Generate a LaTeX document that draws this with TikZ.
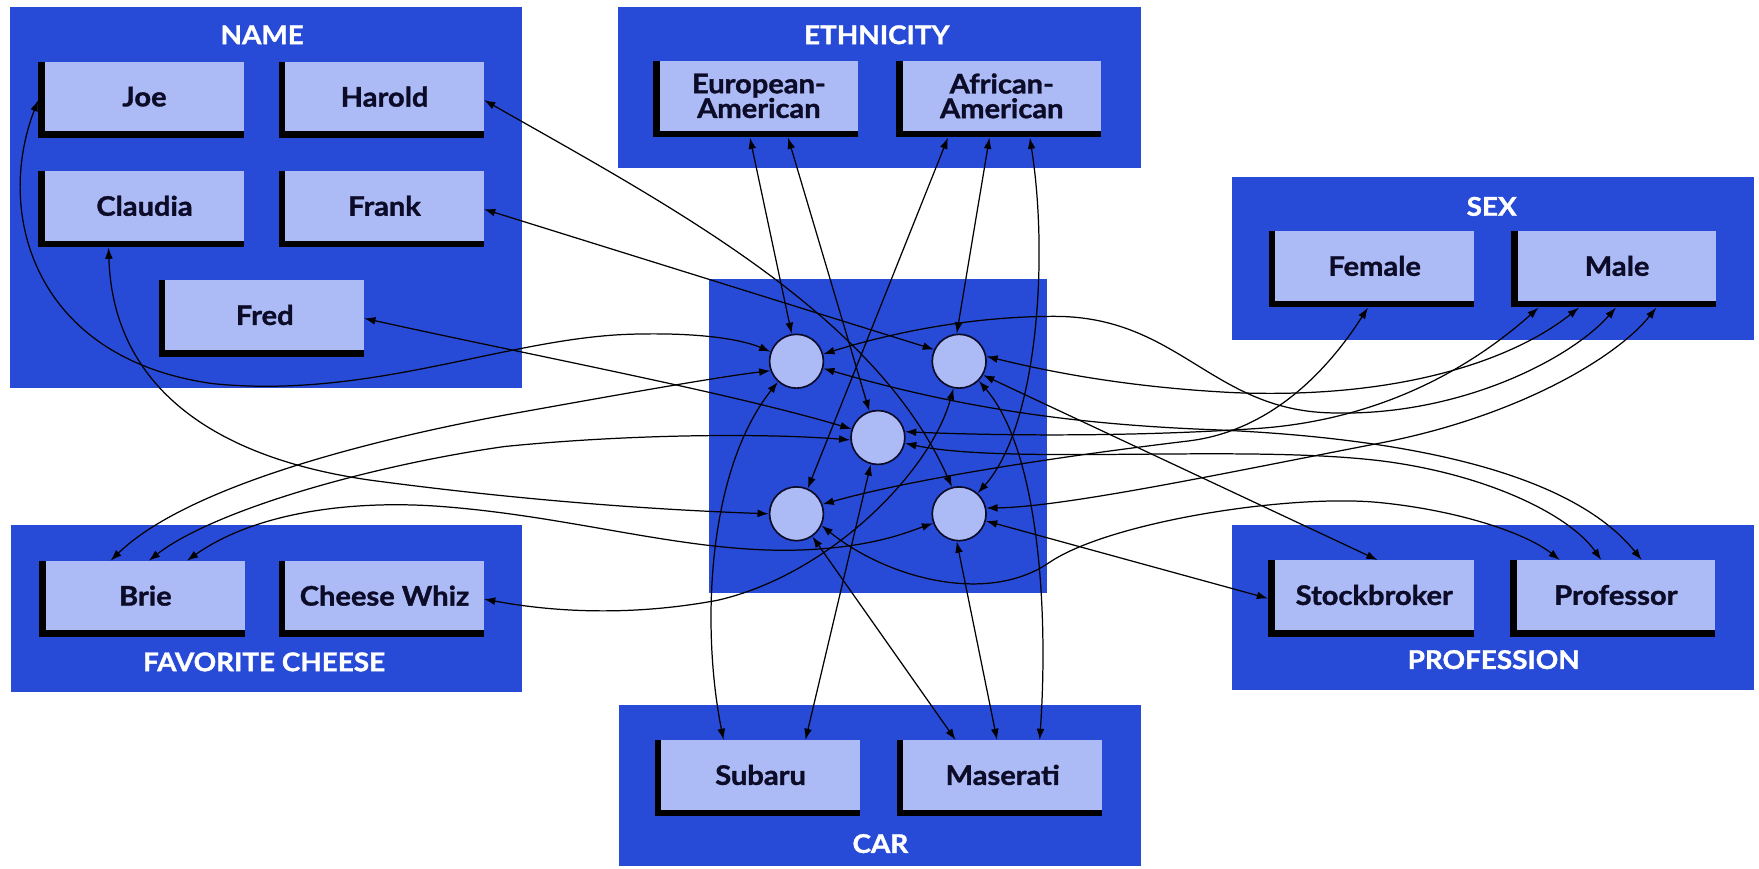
\documentclass[tikz,border=0pt]{standalone}
\usepackage{fontspec}
\setmainfont{Lato}[FakeStretch=1.08, BoldFeatures={FakeBold=1.3}]
\usetikzlibrary{arrows.meta}
\definecolor{grpblue}{RGB}{40,75,215}
\definecolor{lightbx}{RGB}{172,186,245}
\definecolor{ink}{RGB}{12,12,40}
\newcommand{\mkbox}[4]{%
  \node[shade] (#1) at ({#2-3},{#3+3}) {};
  \node[lbox] (#1-t) at (#2,#3) {#4};
}
\begin{document}
\begin{tikzpicture}[x=1pt,y=-1pt,
  group/.style={fill=grpblue, draw=none, inner sep=0pt},
  title/.style={text=white, inner sep=0pt, font=\bfseries\fontsize{23}{23}\selectfont},
  shade/.style={fill=black, draw=none, minimum width=183pt, minimum height=68pt, inner sep=0pt},
  lbox/.style={fill=lightbx, draw=none, minimum width=177pt, minimum height=62pt, inner sep=0pt,
    text=ink, align=center, font=\bfseries\fontsize{24}{22}\selectfont},
  unit/.style={circle, fill=lightbx, draw=ink, line width=1.5pt, minimum size=48pt, inner sep=0pt},
  conn/.style={<->, >={Latex[length=10pt,width=7pt]}, line width=1.1pt, black},
]
\fill[white] (0,0) rectangle (1568,774);
\useasboundingbox (0,0) rectangle (1568,774);

% group boxes
\node[group, minimum width=457pt, minimum height=340pt] (gname) at (237,176) {};
\node[group, minimum width=466pt, minimum height=144pt] (geth) at (784,78) {};
\node[group, minimum width=465pt, minimum height=145.5pt] (gsex) at (1331,230.25) {};
\node[group, minimum width=465pt, minimum height=147pt] (gprof) at (1331,541.5) {};
\node[group, minimum width=455.5pt, minimum height=148.5pt] (gcheese) at (237.75,542.25) {};
\node[group, minimum width=465.6pt, minimum height=143.5pt] (gcar) at (784.2,700.25) {};
\node[group, minimum width=301pt, minimum height=280pt] (hidden) at (782.5,389) {};

% titles
\node[title] (tname) at (233.7,31) {NAME};
\node[title] (teth) at (781.6,31) {ETHNICITY};
\node[title] (tsex) at (1329.7,184) {SEX};
\node[title] (tprof) at (1331.5,588) {PROFESSION};
\node[title] (tcheese) at (235.4,590) {FAVORITE CHEESE};
\node[title] (tcar) at (784.8,752) {CAR};

% value boxes
\mkbox{joe}{128.8}{86.2}{Joe}
\mkbox{harold}{342.8}{86.2}{Harold}
\mkbox{claudia}{128.8}{183.5}{Claudia}
\mkbox{frank}{342.8}{183.5}{Frank}
\mkbox{fred}{236}{280.8}{Fred}
\mkbox{euro}{676.5}{85.5}{European-\\American}
\mkbox{afr}{893}{85.5}{African-\\American}
\mkbox{female}{1225.4}{237}{Female}
\mkbox{male}{1441.5}{237}{Male}
\mkbox{stock}{1225}{530.4}{Stockbroker}
\mkbox{prof}{1440.4}{530.4}{Professor}
\mkbox{brie}{129.6}{531}{Brie}
\mkbox{cw}{342.8}{531}{Cheese Whiz}
\mkbox{subaru}{678}{690.8}{Subaru}
\mkbox{maserati}{893.8}{690.8}{Maserati}

% hidden units
\node[unit] (u1) at (710,322) {};
\node[unit] (u2) at (855,322) {};
\node[unit] (u3) at (782.6,390) {};
\node[unit] (u4) at (710,458) {};
\node[unit] (u5) at (855,458) {};

% connection points
\coordinate (claA) at ([xshift=-29pt]claudia.south);
\coordinate (b1) at ([xshift=-28pt]brie.north);
\coordinate (b2) at ([xshift=6pt]brie.north);
\coordinate (b3) at ([xshift=40pt]brie.north);
\coordinate (e1) at ([xshift=-5pt]euro.south);
\coordinate (e2) at ([xshift=29pt]euro.south);
\coordinate (a1) at ([xshift=-45pt]afr.south);
\coordinate (a2) at ([xshift=-8pt]afr.south);
\coordinate (a3) at ([xshift=28pt]afr.south);
\coordinate (fem) at ([xshift=-3pt]female.south);
\coordinate (m1) at ([xshift=-67pt]male.south);
\coordinate (m2) at ([xshift=-31pt]male.south);
\coordinate (m3) at ([xshift=2pt]male.south);
\coordinate (m4) at ([xshift=38pt]male.south);
\coordinate (sbN) at ([xshift=6pt]stock.north);
\coordinate (p1) at ([xshift=-47pt]prof.north);
\coordinate (p2) at ([xshift=-10pt]prof.north);
\coordinate (p3) at ([xshift=26pt]prof.north);
\coordinate (s1) at ([xshift=-30pt]subaru.north);
\coordinate (s2) at ([xshift=43pt]subaru.north);
\coordinate (ma1) at ([xshift=-39pt]maserati.north);
\coordinate (ma2) at ([xshift=-2pt]maserati.north);
\coordinate (ma3) at ([xshift=36pt]maserati.north);

% names
\draw[conn] (joe.west) .. controls (-5,190) and (30,320) .. (190,342)
  .. controls (330,356) and (450,302) .. (560,298) .. controls (620,296) and (660,302) .. (u1.160);
\draw[conn] (harold.east) .. controls (600,185) and (780,280) .. (u5.105);
\draw[conn] (claA) .. controls (100,330) and (170,405) .. (330,428)
  .. controls (480,448) and (600,455) .. (u4.180);
\draw[conn] (frank.east) -- (u2.155);
\draw[conn] (fred.east) .. controls (480,318) and (650,350) .. (u3.162);

% cheese
\draw[conn] (b1) .. controls (160,440) and (300,398) .. (450,370)
  .. controls (550,352) and (640,336) .. (u1.200);
\draw[conn] (b2) .. controls (190,455) and (330,415) .. (450,398)
  .. controls (560,387) and (680,386) .. (u3.185);
\draw[conn] (b3) .. controls (230,455) and (320,445) .. (400,452)
  .. controls (520,462) and (620,495) .. (720,490) .. controls (780,487) and (810,474) .. (u5.200);
\draw[conn] (cw.east) .. controls (490,545) and (560,550) .. (640,535)
  .. controls (740,512) and (830,420) .. (u2.258);

% ethnicity
\draw[conn] (e1) -- (u1.100);
\draw[conn] (e2) -- (u3.108);
\draw[conn] (a1) -- (u4.66);
\draw[conn] (a2) -- (u2.95);
\draw[conn] (a3) .. controls (935,230) and (925,380) .. (u5.48);

% car
\draw[conn] (s1) .. controls (625,560) and (630,420) .. (u1.228);
\draw[conn] (s2) -- (u3.255);
\draw[conn] (ma1) -- (u4.305);
\draw[conn] (ma2) -- (u5.265);
\draw[conn] (ma3) .. controls (935,540) and (925,400) .. (u2.315);

% sex and profession
\draw[conn] (u1.15) .. controls (800,295) and (870,282) .. (940,282)
  .. controls (1050,282) and (1080,365) .. (1185,368) .. controls (1300,372) and (1400,320) .. (m3);
\draw[conn] (u2.10) .. controls (930,330) and (1000,345) .. (1100,350)
  .. controls (1250,356) and (1350,320) .. (m2);
\draw[conn] (u2.330) -- (sbN);
\draw[conn] (u1.345) .. controls (850,362) and (950,378) .. (1080,383)
  .. controls (1250,390) and (1400,420) .. (p3);
\draw[conn] (u3.12) .. controls (880,388) and (1000,390) .. (1120,382)
  .. controls (1240,374) and (1320,320) .. (m1);
\draw[conn] (u3.348) .. controls (900,415) and (1120,395) .. (1240,412)
  .. controls (1330,425) and (1400,460) .. (p2);
\draw[conn] (u4.20) .. controls (820,425) and (960,405) .. (1060,393)
  .. controls (1140,383) and (1190,320) .. (fem);
\draw[conn] (u4.335) .. controls (790,515) and (880,540) .. (936,501)
  .. controls (990,465) and (1150,440) .. (1230,448) .. controls (1300,455) and (1360,475) .. (p1);
\draw[conn] (u5.12) .. controls (950,452) and (1100,420) .. (1230,395)
  .. controls (1350,372) and (1440,320) .. (m4);
\draw[conn] (u5.345) -- (stock.west);
\end{tikzpicture}
\end{document}
